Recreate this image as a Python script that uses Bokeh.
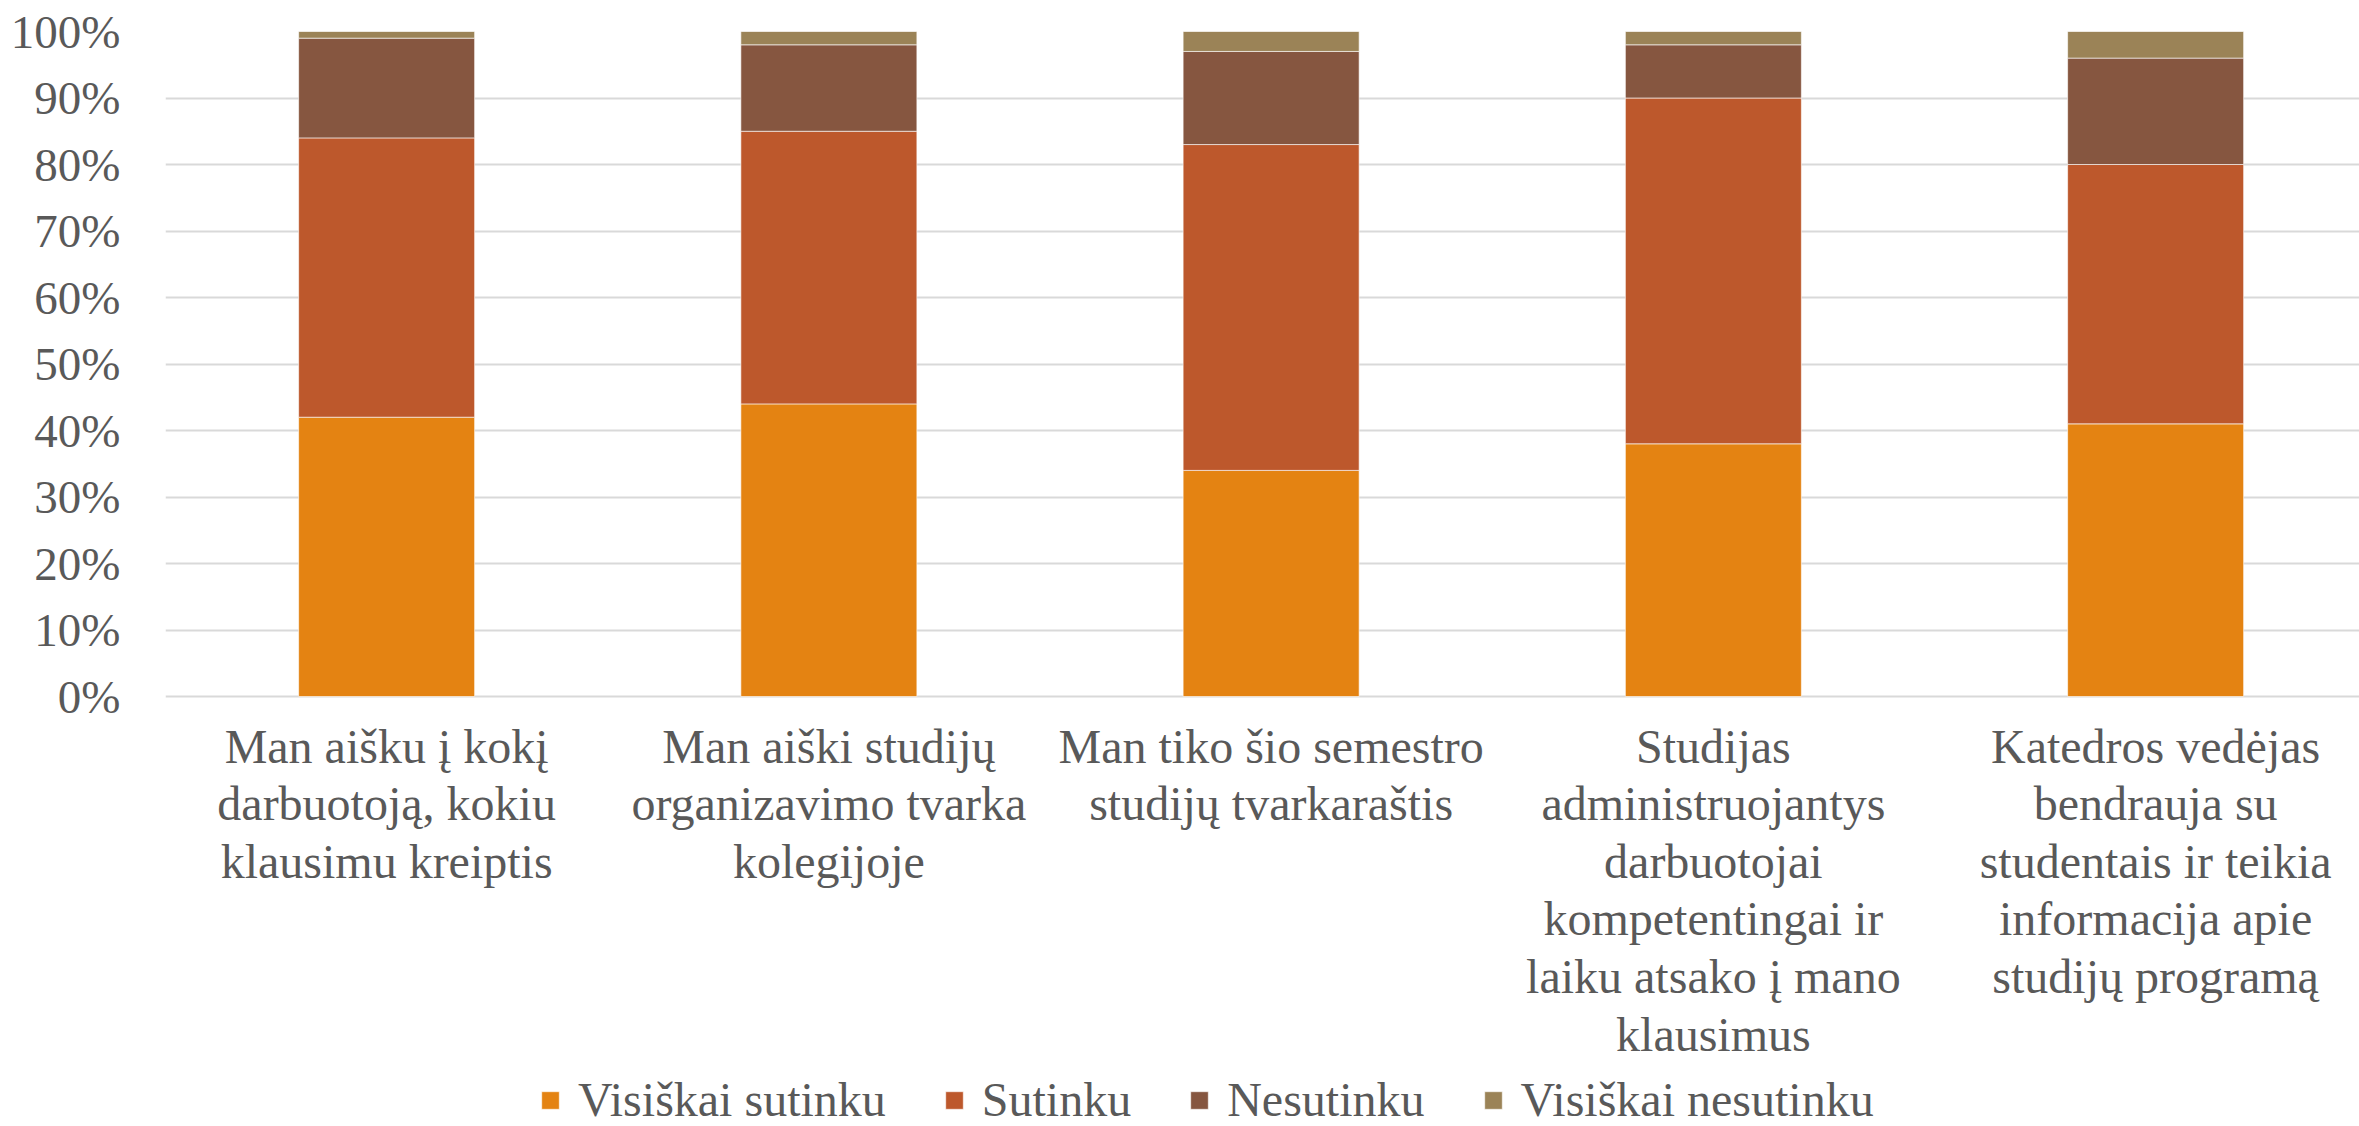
from bokeh.plotting import figure
from bokeh.models import Range1d, FixedTicker, NumeralTickFormatter, Legend, LegendItem, ColumnDataSource
from bokeh.core.properties import value
from bokeh.embed import file_html
from bokeh.resources import INLINE

categories = [
    "Man aišku į kokį\ndarbuotoją, kokiu\nklausimu kreiptis",
    "Man aiški studijų\norganizavimo tvarka\nkolegijoje",
    "Man tiko šio semestro\nstudijų tvarkaraštis",
    "Studijas\nadministruojantys\ndarbuotojai\nkompetentingai ir\nlaiku atsako į mano\nklausimus",
    "Katedros vedėjas\nbendrauja su\nstudentais ir teikia\ninformacija apie\nstudijų programą",
]
series_names = ["Visiškai sutinku", "Sutinku", "Nesutinku", "Visiškai nesutinku"]
visiskai_sutinku = [42, 44, 34, 38, 41]
sutinku = [42, 41, 49, 52, 39]
nesutinku = [15, 13, 14, 8, 16]
visiskai_nesutinku = [1, 2, 3, 2, 4]
colors = ["#E48312", "#BD582C", "#865640", "#9B8357"]
y_ticks = [0, 0.1, 0.2, 0.3, 0.4, 0.5, 0.6, 0.7, 0.8, 0.9, 1.0]

FONT = "Liberation Serif"
TXT = "#595959"

# layout constants (pixels)
W, H = 2359, 1126
LEFT, TOP = 165, 31
PX_PER_UNIT_Y = 665.0   # pixels for 0..100%
PX_PER_CAT = 442.25
LABEL_GAP = 23

frame_h = H - TOP
y_start = 1 - frame_h / PX_PER_UNIT_Y
x_end = (W - LEFT) / PX_PER_CAT

xs = [i + 0.5 for i in range(len(categories))]
keys = ["s0", "s1", "s2", "s3"]
data = dict(x=xs)
for k, vals in zip(keys, [visiskai_sutinku, sutinku, nesutinku, visiskai_nesutinku]):
    data[k] = [v / 100 for v in vals]
src = ColumnDataSource(data)

p = figure(width=W, height=H, output_backend="svg", toolbar_location=None,
           x_range=Range1d(0, x_end), y_range=Range1d(y_start, 1),
           min_border_left=LEFT, min_border_right=0, min_border_top=TOP, min_border_bottom=0)
p.outline_line_color = None
p.background_fill_color = "white"
p.border_fill_color = "white"
p.xaxis.visible = False

p.xgrid.grid_line_color = None
p.ygrid.grid_line_color = "#D9D9D9"
p.ygrid.grid_line_width = 2
p.ygrid.ticker = FixedTicker(ticks=y_ticks)

renderers = p.vbar_stack(keys, x="x", width=0.398, source=src, color=colors,
                         line_color="white", line_width=1, line_alpha=0.6)

ya = p.yaxis[0]
ya.ticker = FixedTicker(ticks=y_ticks)
ya.formatter = NumeralTickFormatter(format="0%")
ya.axis_line_color = None
ya.major_tick_line_color = None
ya.minor_tick_line_color = None
ya.major_label_text_font = FONT
ya.major_label_text_font_size = "47px"
ya.major_label_text_color = TXT
ya.major_label_standoff = 39

lab_src = ColumnDataSource(dict(x=xs, y=[-LABEL_GAP / PX_PER_UNIT_Y] * len(xs), t=categories))
p.text(x="x", y="y", text="t", source=lab_src, text_font=value(FONT),
       text_font_size="48px", text_color=TXT, text_align="center", text_baseline="top",
       text_line_height=1.088)

items = [LegendItem(label=n, renderers=[r]) for n, r in zip(series_names, renderers)]
legend = Legend(items=items, orientation="horizontal", location=(374, -1),
                glyph_width=22, glyph_height=22, label_standoff=17, spacing=57,
                padding=0, margin=0, border_line_color=None, background_fill_alpha=0,
                label_text_font=FONT, label_text_font_size="48px", label_text_color=TXT)
p.add_layout(legend, "center")

open("out.html", "w").write(file_html(p, INLINE))
